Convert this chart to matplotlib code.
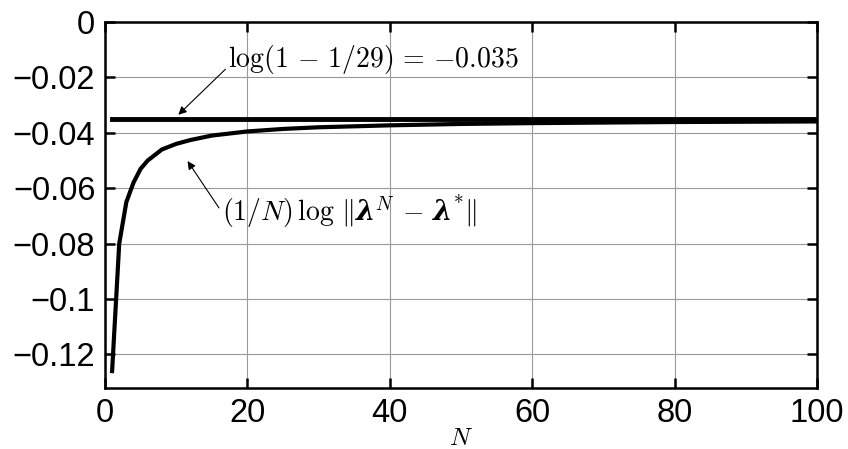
import matplotlib
matplotlib.use("Agg")
import matplotlib.pyplot as plt

# values
N_vals = [1, 2, 3, 4, 5, 6, 7, 8, 10, 12, 15, 20, 25, 30, 40, 50, 60, 70, 80, 90, 100]
rate_vals = [-0.126, -0.080, -0.065, -0.058, -0.053, -0.050, -0.048, -0.046, -0.044,
             -0.0426, -0.041, -0.0395, -0.0386, -0.038, -0.0373, -0.0368, -0.0365,
             -0.0363, -0.0361, -0.036, -0.0359]
limit_N = [1, 100]
limit_val = -0.035

x_ticks = [0, 20, 40, 60, 80, 100]
y_ticks = [0, -0.02, -0.04, -0.06, -0.08, -0.1, -0.12]
y_tick_labels = ["0", "\u22120.02", "\u22120.04", "\u22120.06", "\u22120.08", "\u22120.1", "\u22120.12"]

plt.rcParams['mathtext.fontset'] = 'custom'
plt.rcParams['mathtext.rm'] = 'cmr10'
plt.rcParams['mathtext.it'] = 'cmmi10'
plt.rcParams['mathtext.bf'] = 'DejaVu Serif:italic:bold'
plt.rcParams['mathtext.bfit'] = 'DejaVu Serif:italic:bold'
plt.rcParams['mathtext.fallback'] = 'cm'
plt.rcParams['font.family'] = ['Liberation Sans', 'DejaVu Sans']

fig = plt.figure(figsize=(8.48, 4.49), dpi=100)
ax = fig.add_axes([0.1238, 0.1359, 0.8396, 0.8151])

ax.plot(N_vals, rate_vals, color="black", lw=3)
ax.plot(limit_N, [limit_val, limit_val], color="black", lw=3.5)

ax.set_xlim(0, 100)
ax.set_ylim(-0.1321, 0)
ax.set_xticks(x_ticks)
ax.set_yticks(y_ticks)
ax.set_yticklabels(y_tick_labels)
ax.grid(True, color="#999999", lw=0.8)
ax.tick_params(direction="in", length=7, width=1.8, labelsize=23.5, pad=7,
               top=True, right=True)
for s in ax.spines.values():
    s.set_linewidth(1.8)

ax.set_xlabel(r"$N$", fontsize=18, labelpad=-2)

ax.annotate(r"$\log(1\,-\,1/29)\,=\,{-}0.035$", xy=(10.3, -0.0335), xytext=(17.3, -0.0137),
            fontsize=20, va="center", ha="left",
            arrowprops=dict(arrowstyle="-|>", color="black", lw=0.8,
                            mutation_scale=12, shrinkA=0, shrinkB=0,
                            relpos=(0, 0.3)))
ax.annotate(r"$(1/N)\,\log\,\Vert\boldsymbol{\lambda}^N\,-\,\boldsymbol{\lambda}^{*}\Vert$",
            xy=(11.6, -0.0502), xytext=(16.4, -0.0686),
            fontsize=20, va="center", ha="left",
            arrowprops=dict(arrowstyle="-|>", color="black", lw=0.8,
                            mutation_scale=12, shrinkA=0, shrinkB=0,
                            relpos=(0, 0.5)))

fig.savefig("out.png", dpi=100)
